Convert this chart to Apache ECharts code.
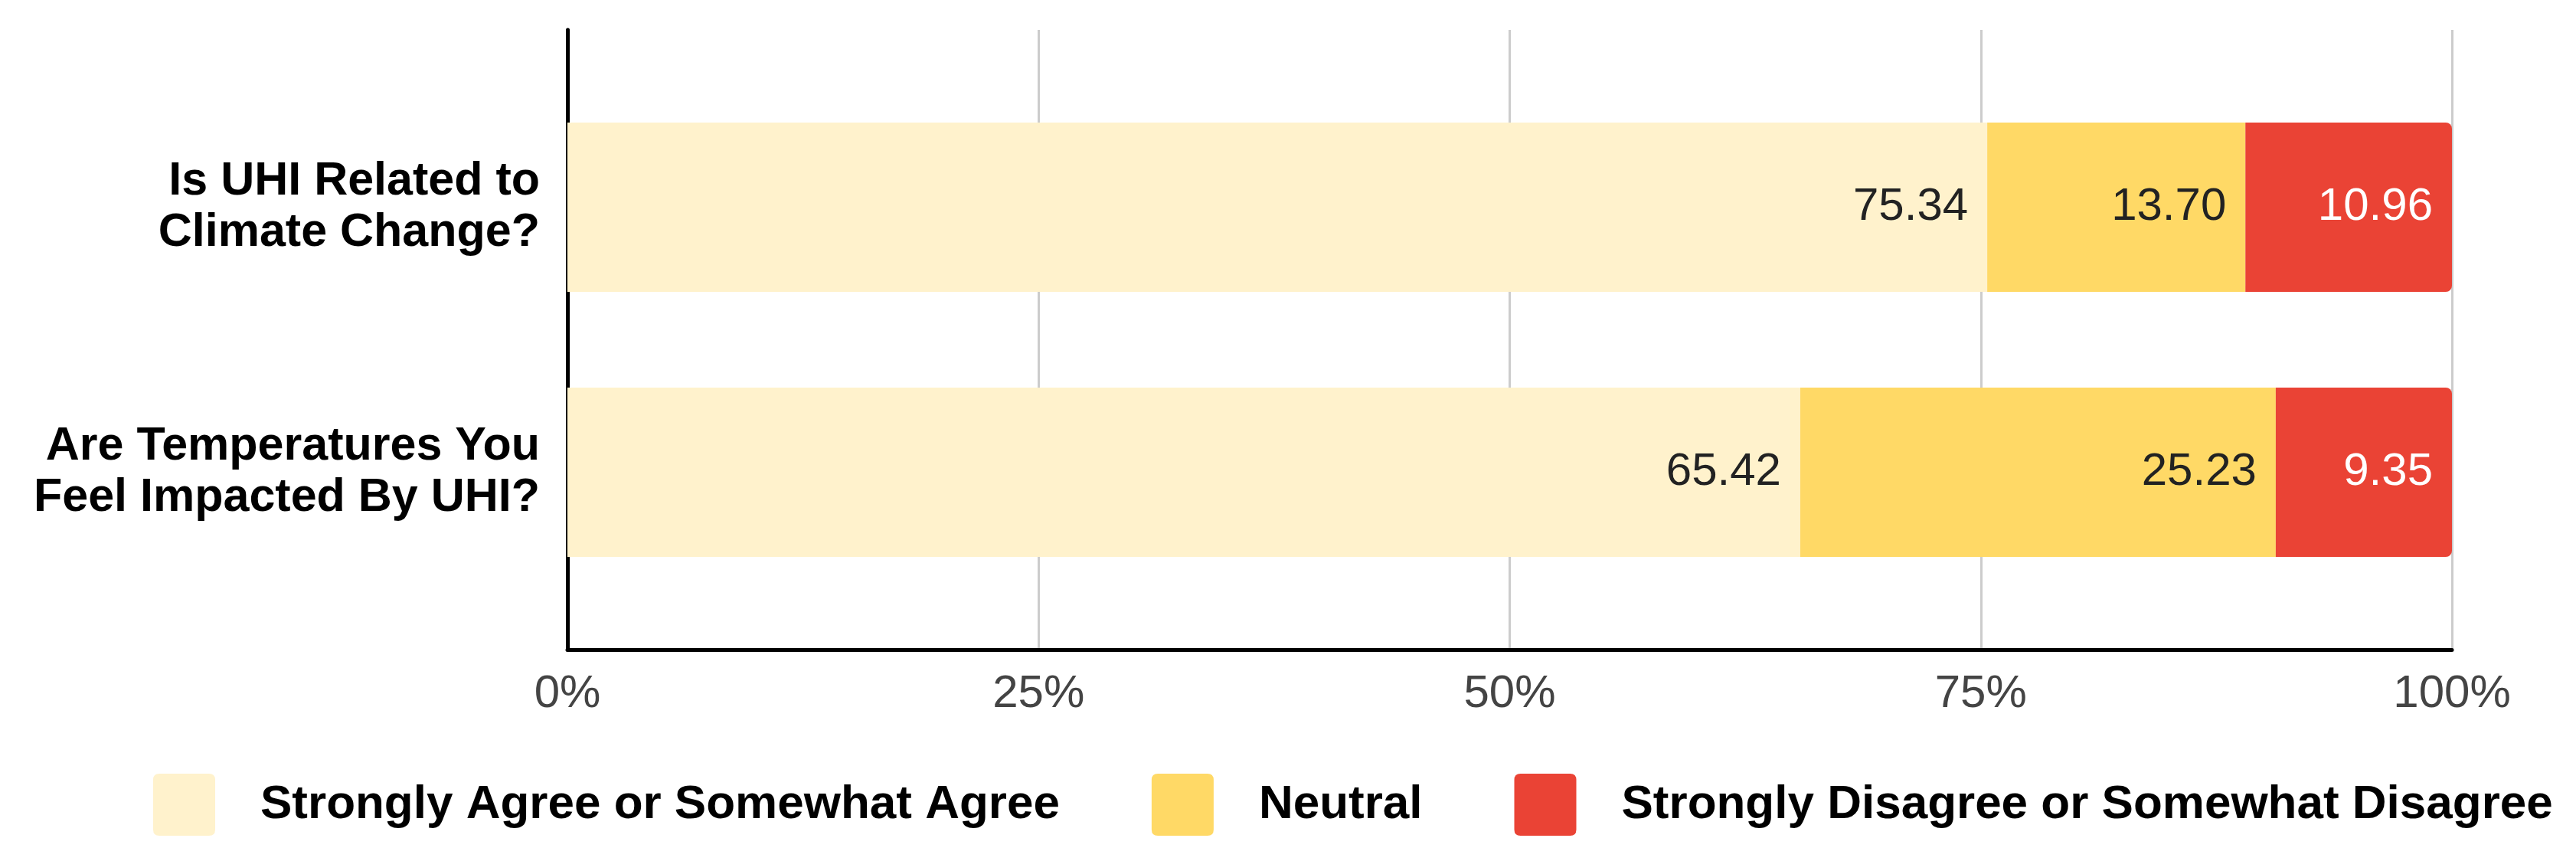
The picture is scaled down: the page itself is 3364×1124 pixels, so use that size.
<!DOCTYPE html>
<html>
<head>
<meta charset="utf-8">
<script src="https://cdn.jsdelivr.net/npm/echarts@6/dist/echarts.min.js"></script>
<style>
html,body{margin:0;padding:0;background:#fff;}
#chart{width:3364px;height:1124px;}
</style>
</head>
<body>
<div id="chart"></div>
<script>
const categories = ['Is UHI Related to\nClimate Change?', 'Are Temperatures You\nFeel Impacted By UHI?'];
const seriesNames = ['Strongly Agree or Somewhat Agree', 'Neutral', 'Strongly Disagree or Somewhat Disagree'];
const agreeValues = [75.34, 65.42];
const neutralValues = [13.70, 25.23];
const disagreeValues = [10.96, 9.35];
const xTicks = [0, 25, 50, 75, 100];

const FONT = '"Liberation Sans", Arial, sans-serif';
const colors = ['#FFF2CC', '#FFD966', '#EA4335'];
const labelColors = ['#222', '#222', '#fff'];
const values = [agreeValues, neutralValues, disagreeValues];

const gridLeft = 741, gridRight = 3364 - 3202;

const chart = echarts.init(document.getElementById('chart'), null, {renderer: 'canvas'});
const roundIcon = 'path://M10,0 L90,0 Q100,0 100,10 L100,90 Q100,100 90,100 L10,100 Q0,100 0,90 L0,10 Q0,0 10,0 Z';

const series = seriesNames.map((name, i) => ({
  name: name,
  type: 'bar',
  stack: 'total',
  xAxisIndex: 1,
  yAxisIndex: 1,
  barWidth: 221,
  data: values[i],
  itemStyle: {
    color: colors[i],
    borderRadius: i === 2 ? [0, 8, 8, 0] : 0
  },
  label: {
    show: true,
    position: 'insideRight',
    distance: 25,
    fontFamily: FONT,
    fontSize: 60,
    color: labelColors[i],
    formatter: p => Number(p.value).toFixed(2)
  },
  emphasis: {disabled: true}
}));

chart.setOption({
  backgroundColor: '#fff',
  animation: false,
  grid: [
    {left: gridLeft, right: gridRight, top: 39, bottom: 1124 - 848},
    {left: gridLeft, right: gridRight, top: 97.5, bottom: 1124 - 789.5}
  ],
  legend: {
    left: 195,
    top: 1005,
    icon: roundIcon,
    itemWidth: 81,
    itemHeight: 82,
    itemGap: 120,
    data: seriesNames,
    textStyle: {
      fontFamily: FONT,
      fontSize: 62,
      fontWeight: 'bold',
      color: '#000',
      padding: [0, 0, 0, 54]
    },
    selectedMode: false
  },
  xAxis: [
    {
      type: 'value',
      gridIndex: 0,
      min: xTicks[0],
      max: xTicks[xTicks.length - 1],
      interval: xTicks[1] - xTicks[0],
      axisLine: {show: true, onZero: false, lineStyle: {color: '#000', width: 5}},
      axisTick: {show: false},
      splitLine: {show: true, lineStyle: {color: '#cccccc', width: 3}},
      axisLabel: {
        margin: 28,
        fontFamily: FONT,
        fontSize: 60,
        color: '#444',
        formatter: v => v + '%'
      }
    },
    {
      type: 'value',
      gridIndex: 1,
      min: xTicks[0],
      max: xTicks[xTicks.length - 1],
      show: false
    }
  ],
  yAxis: [
    {
      type: 'value',
      gridIndex: 0,
      min: 0,
      max: 1,
      axisLine: {show: true, onZero: false, lineStyle: {color: '#000', width: 5}},
      axisTick: {show: false},
      axisLabel: {show: false},
      splitLine: {show: false}
    },
    {
      type: 'category',
      gridIndex: 1,
      inverse: true,
      data: categories,
      axisLine: {show: false},
      axisTick: {show: false},
      splitLine: {show: false},
      axisLabel: {
        margin: 36,
        fontFamily: FONT,
        fontSize: 61,
        fontWeight: 'bold',
        color: '#000',
        lineHeight: 67,
        align: 'right'
      }
    }
  ],
  series: series
});
</script>
</body>
</html>
